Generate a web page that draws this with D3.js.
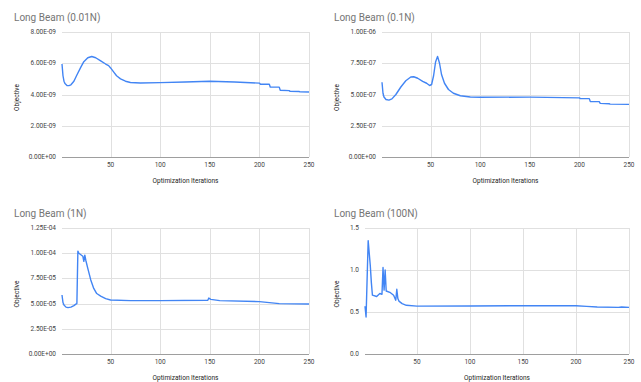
<!DOCTYPE html>
<html lang="en">
	<head>
		<meta charset="utf-8">
		<title>Long Beam objective</title>
		<script type="text/javascript" src="https://cdn.jsdelivr.net/npm/d3@7"></script>
		<style type="text/css">
			body { margin: 0; background: #fff; }
			text { font-family: Roboto, Arial, sans-serif; }
		</style>
	</head>
	<body>
		<script type="text/javascript">

			//Width and height
			var w = 641;
			var h = 382;

			//Data (objective vs iteration)
			var iter001 = [1,2,3,4,6,8,10,13,16,20,23,27,31,35,40,45,48,50,53,56,60,65,70,80,100,125,150,175,200,201,210,211,220,221,230,231,240,241,250];
			var obj001 = [5.95e-9,5.2e-9,4.85e-9,4.7e-9,4.58e-9,4.57e-9,4.62e-9,4.85e-9,5.25e-9,5.75e-9,6.1e-9,6.35e-9,6.43e-9,6.35e-9,6.15e-9,5.95e-9,5.85e-9,5.7e-9,5.45e-9,5.2e-9,5.0e-9,4.85e-9,4.77e-9,4.74e-9,4.76e-9,4.8e-9,4.85e-9,4.8e-9,4.73e-9,4.66e-9,4.66e-9,4.47e-9,4.47e-9,4.27e-9,4.25e-9,4.2e-9,4.19e-9,4.17e-9,4.16e-9];

			var iter01 = [1,2,3,5,8,11,15,20,25,30,33,37,42,46,49,51,53,55,57,59,61,64,68,73,80,90,100,150,200,201,210,211,220,221,230,231,250];
			var obj01 = [5.98e-7,5.1e-7,4.8e-7,4.6e-7,4.55e-7,4.65e-7,5.0e-7,5.6e-7,6.1e-7,6.4e-7,6.42e-7,6.3e-7,6.05e-7,5.9e-7,5.72e-7,5.8e-7,6.5e-7,7.6e-7,8.05e-7,7.5e-7,6.6e-7,5.9e-7,5.4e-7,5.1e-7,4.9e-7,4.8e-7,4.78e-7,4.79e-7,4.73e-7,4.67e-7,4.67e-7,4.43e-7,4.43e-7,4.29e-7,4.26e-7,4.23e-7,4.21e-7];

			var iter1 = [1,2,3,5,7,10,13,15,16,17,18,20,22,23,24,25,27,30,33,36,40,45,50,70,100,148,149,151,160,200,210,220,250];
			var obj1 = [5.85e-5,5.1e-5,4.85e-5,4.65e-5,4.6e-5,4.65e-5,4.8e-5,4.95e-5,5.0e-5,10.2e-5,10.0e-5,9.85e-5,9.7e-5,9.2e-5,9.8e-5,9.3e-5,8.5e-5,7.35e-5,6.5e-5,6.0e-5,5.75e-5,5.5e-5,5.36e-5,5.3e-5,5.3e-5,5.33e-5,5.55e-5,5.42e-5,5.3e-5,5.2e-5,5.1e-5,5.0e-5,4.96e-5];

			var iter100 = [1,2,4,5,6,7,8,12,15,17,18,19,20,21,25,28,30,31,32,33,36,40,50,100,150,200,210,220,240,243,250];
			var obj100 = [0.57,0.44,1.35,1.2,1.05,0.85,0.7,0.685,0.72,0.71,1.03,0.76,1.0,0.75,0.73,0.70,0.64,0.77,0.66,0.63,0.6,0.58,0.57,0.572,0.575,0.575,0.567,0.56,0.555,0.56,0.555];

			//Tick values and labels
			var xTicks = [50, 100, 150, 200, 250];
			var yTicks001 = [0, 2e-9, 4e-9, 6e-9, 8e-9];
			var yLabels001 = ["0.00E+00", "2.00E-09", "4.00E-09", "6.00E-09", "8.00E-09"];
			var yTicks01 = [0, 2.5e-7, 5e-7, 7.5e-7, 1e-6];
			var yLabels01 = ["0.00E+00", "2.50E-07", "5.00E-07", "7.50E-07", "1.00E-06"];
			var yTicks1 = [0, 2.5e-5, 5e-5, 7.5e-5, 1.25e-4 - 2.5e-5, 1.25e-4];
			var yLabels1 = ["0.00E+00", "2.50E-05", "5.00E-05", "7.50E-05", "1.00E-04", "1.25E-04"];
			var yTicks100 = [0, 0.5, 1.0, 1.5];
			var yLabels100 = ["0.0", "0.5", "1.0", "1.5"];

			var titles = ["Long Beam (0.01N)", "Long Beam (0.1N)", "Long Beam (1N)", "Long Beam (100N)"];

			//Create SVG element
			var svg = d3.select("body")
						.append("svg")
						.attr("width", w)
						.attr("height", h);

			function drawPanel(ox, oy, left, right, top, bottom, title, xs, ys, yTicks, yLabels) {
				var g = svg.append("g").attr("transform", "translate(" + ox + "," + oy + ")");

				var x = d3.scaleLinear().domain([1, 250]).range([left, right]);
				var y = d3.scaleLinear().domain([0, yTicks[yTicks.length - 1]]).range([bottom, top]);

				//Horizontal gridlines
				g.selectAll("line.hgrid")
					.data(yTicks.slice(1))
					.enter()
					.append("line")
					.attr("x1", left)
					.attr("x2", right)
					.attr("y1", function(d) { return Math.round(y(d)) + 0.5; })
					.attr("y2", function(d) { return Math.round(y(d)) + 0.5; })
					.attr("stroke", "#e0e0e0")
					.attr("stroke-width", 1);

				//Vertical gridlines
				g.selectAll("line.vgrid")
					.data(xTicks)
					.enter()
					.append("line")
					.attr("x1", function(d) { return Math.round(x(d)) + 0.5; })
					.attr("x2", function(d) { return Math.round(x(d)) + 0.5; })
					.attr("y1", top)
					.attr("y2", bottom)
					.attr("stroke", "#e0e0e0")
					.attr("stroke-width", 1);

				//Baseline
				g.append("line")
					.attr("x1", left)
					.attr("x2", right)
					.attr("y1", Math.round(y(0)) + 0.5)
					.attr("y2", Math.round(y(0)) + 0.5)
					.attr("stroke", "#9e9e9e")
					.attr("stroke-width", 1);

				//Y tick labels
				g.selectAll("text.ytick")
					.data(yTicks)
					.enter()
					.append("text")
					.text(function(d, i) { return yLabels[i]; })
					.attr("x", left - 6)
					.attr("y", function(d) { return y(d) + 2; })
					.attr("text-anchor", "end")
					.attr("font-size", "6.5px")
					.attr("fill", "#444");

				//X tick labels
				g.selectAll("text.xtick")
					.data(xTicks)
					.enter()
					.append("text")
					.text(function(d) { return d; })
					.attr("x", function(d) { return x(d); })
					.attr("y", bottom + 10)
					.attr("text-anchor", "middle")
					.attr("font-size", "6.5px")
					.attr("fill", "#444");

				//Axis titles
				g.append("text")
					.text("Optimization Iterations")
					.attr("x", (left + right) / 2)
					.attr("y", bottom + 26)
					.attr("text-anchor", "middle")
					.attr("font-size", "6.5px")
					.attr("fill", "#222");

				g.append("text")
					.text("Objective")
					.attr("transform", "translate(19," + ((top + bottom) / 2 + 3) + ") rotate(-90)")
					.attr("text-anchor", "middle")
					.attr("font-size", "6.5px")
					.attr("fill", "#222");

				//Chart title
				g.append("text")
					.text(title)
					.attr("x", 14)
					.attr("y", top - 11)
					.attr("font-size", "10px")
					.attr("fill", "#757575");

				//Line
				var line = d3.line()
							 .x(function(d, i) { return x(xs[i]); })
							 .y(function(d) { return y(d); });

				g.append("path")
					.attr("d", line(ys))
					.attr("fill", "none")
					.attr("stroke", "#4285f4")
					.attr("stroke-width", 1.4)
					.attr("stroke-linejoin", "round");
			}

			drawPanel(0, 0, 62, 309, 32, 157, titles[0], iter001, obj001, yTicks001, yLabels001);
			drawPanel(320, 0, 62, 309, 32, 157, titles[1], iter01, obj01, yTicks01, yLabels01);
			drawPanel(0, 191, 62, 309, 37, 163, titles[2], iter1, obj1, yTicks1, yLabels1);
			drawPanel(320, 191, 45, 309, 37, 163, titles[3], iter100, obj100, yTicks100, yLabels100);

		</script>
	</body>
</html>
